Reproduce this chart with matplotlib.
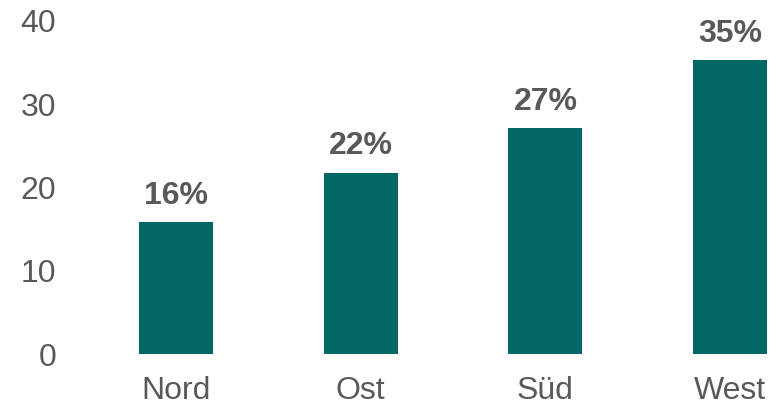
import matplotlib

matplotlib.use("Agg")

import matplotlib.pyplot as plt

regions = ["Nord", "Ost", "Süd", "West"]
shares = [15.8, 21.8, 27.1, 35.3]
yticks = [0, 10, 20, 30, 40]

plt.rcParams["font.family"] = ["Liberation Sans", "DejaVu Sans"]
grey = "#595959"
teal = "#036766"

W, H = 781, 407
fig = plt.figure(figsize=(W / 100, H / 100), dpi=100)
left, right, bottom, top = 70, 781, 354, 21
ax = fig.add_axes([left / W, 1 - bottom / H, (right - left) / W, (bottom - top) / H])

x = list(range(len(regions)))
bars = ax.bar(x, shares, width=0.4, color=teal)
for b, v in zip(bars, shares):
    ax.annotate(f"{v:.0f}%", (b.get_x() + b.get_width() / 2, v), xytext=(0, 8),
                textcoords="offset points", ha="center", va="bottom",
                fontsize=23, fontweight="bold", color=grey)

c0, step = 176, 184.7
ax.set_xlim((left - c0) / step, (right - c0) / step)
ax.set_ylim(0, 40)
ax.set_xticks(x, regions)
ax.set_yticks(yticks)
ax.tick_params(axis="both", length=0, labelsize=23, labelcolor=grey)
ax.tick_params(axis="x", pad=16)
ax.tick_params(axis="y", pad=10)
for s in ax.spines.values():
    s.set_visible(False)

fig.savefig("out.png", dpi=100)
plt.close(fig)
